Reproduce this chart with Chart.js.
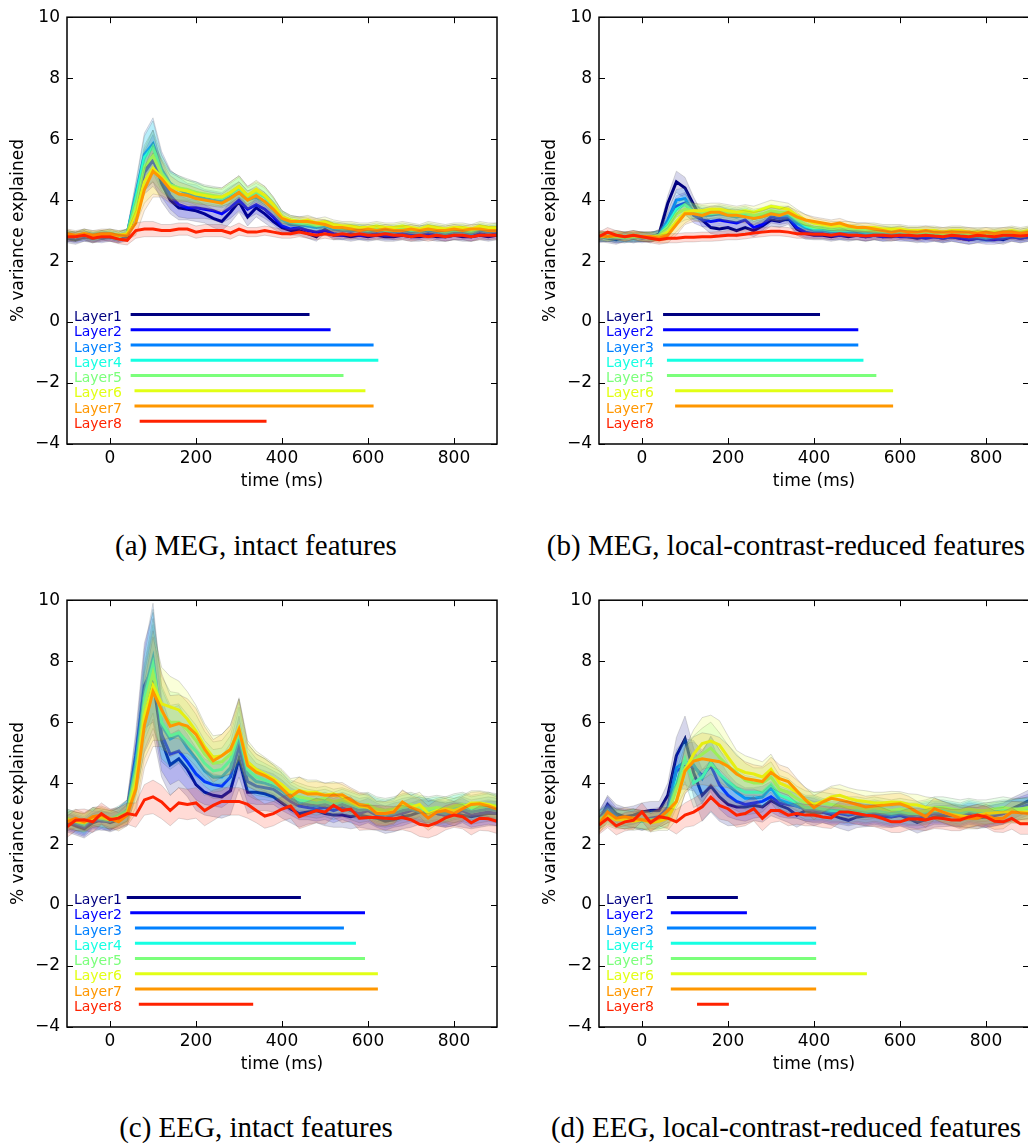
<!DOCTYPE html>
<html>
<head>
<meta charset="utf-8">
<script src="https://cdn.jsdelivr.net/npm/chart.js@4.4.0/dist/chart.umd.min.js"></script>
<style>
    body { margin: 0; background: #fff; width: 1028px; height: 1143px; overflow: hidden; position: relative; }
    canvas { position: absolute; }
    .cap { position: absolute; width: 500px; text-align: center; white-space: nowrap;
           font-family: 'Liberation Serif', 'Times New Roman', serif; font-size: 29px; line-height: 30px; color: #000; }
</style>
</head>
<body>
<canvas id="megIntact" width="514" height="500" style="left:0;top:0"></canvas>
<canvas id="megReduced" width="515" height="500" style="left:514px;top:0"></canvas>
<canvas id="eegIntact" width="514" height="500" style="left:0;top:583px"></canvas>
<canvas id="eegReduced" width="515" height="500" style="left:514px;top:583px"></canvas>
<div class="cap" style="left:6px;top:530px">(a) MEG, intact features</div>
<div class="cap" style="left:536px;top:530px">(b) MEG, local-contrast-reduced features</div>
<div class="cap" style="left:6px;top:1112px">(c) EEG, intact features</div>
<div class="cap" style="left:536px;top:1112px">(d) EEG, local-contrast-reduced features</div>
<script>
// time axis (ms), one sample every 20 ms
var times = [-100, -80, -60, -40, -20, 0, 20, 40, 60, 80, 100, 120, 140, 160, 180, 200, 220, 240, 260, 280,
    300, 320, 340, 360, 380, 400, 420, 440, 460, 480, 500, 520, 540, 560, 580, 600, 620, 640, 660, 680,
    700, 720, 740, 760, 780, 800, 820, 840, 860, 880, 900];
var xTicks = [0, 200, 400, 600, 800];
var yTicks = [-4, -2, 0, 2, 4, 6, 8, 10];

var layerNames = ['Layer1', 'Layer2', 'Layer3', 'Layer4', 'Layer5', 'Layer6', 'Layer7', 'Layer8'];
var layerColors = ['#000080', '#0000ff', '#0080ff', '#15ffe2', '#7bff7b', '#e2ff15', '#ff9700', '#ff2200'];
// height of each layer's significance bar
var sigRowY = [0.25, -0.25, -0.75, -1.25, -1.75, -2.25, -2.75, -3.25];

// (a) MEG, intact features: mean % variance explained per layer
var megIntact = [
    [2.75, 2.7, 2.8, 2.75, 2.85, 2.8, 2.75, 2.8, 3.7, 5.0, 5.45, 4.55, 4.0, 3.75, 3.7, 3.65, 3.55, 3.4, 3.3, 3.6,
        3.95, 3.45, 3.75, 3.55, 3.3, 3.1, 3.0, 3.0, 2.9, 2.8, 3.05, 2.85, 2.85, 2.8, 2.85, 2.8, 2.85, 2.8, 2.8, 2.85,
        2.8, 2.8, 2.85, 2.8, 2.8, 2.85, 2.8, 2.8, 2.85, 2.8, 2.85],
    [2.8, 2.75, 2.8, 2.8, 2.75, 2.8, 2.75, 2.85, 3.8, 4.9, 5.3, 4.7, 4.15, 3.85, 3.75, 3.75, 3.7, 3.65, 3.55, 3.75,
        4.0, 3.7, 3.85, 3.7, 3.45, 3.15, 3.05, 3.1, 3.0, 2.95, 3.0, 2.9, 2.85, 2.9, 2.85, 2.85, 2.9, 2.85, 2.85, 2.9,
        2.85, 2.85, 2.9, 2.85, 2.8, 2.85, 2.85, 2.8, 2.9, 2.85, 2.9],
    [2.8, 2.8, 2.85, 2.75, 2.8, 2.85, 2.8, 2.9, 4.2, 5.5, 5.85, 5.0, 4.55, 4.35, 4.2, 4.15, 4.05, 4.0, 3.95, 4.1,
        4.25, 4.0, 4.1, 3.95, 3.7, 3.35, 3.2, 3.2, 3.15, 3.1, 3.15, 3.05, 3.0, 3.0, 3.0, 2.95, 3.0, 2.95, 2.95, 3.0,
        2.95, 2.95, 3.0, 2.95, 2.9, 2.95, 2.95, 2.9, 3.0, 2.95, 3.0],
    [2.85, 2.8, 2.85, 2.8, 2.85, 2.85, 2.8, 2.9, 4.1, 5.4, 5.75, 4.9, 4.5, 4.4, 4.3, 4.25, 4.15, 4.1, 4.05, 4.2,
        4.4, 4.1, 4.25, 4.1, 3.8, 3.45, 3.3, 3.25, 3.2, 3.15, 3.2, 3.1, 3.05, 3.05, 3.05, 3.0, 3.05, 3.0, 3.0, 3.05,
        3.0, 3.0, 3.05, 3.0, 2.95, 3.0, 3.0, 2.95, 3.05, 3.0, 3.05],
    [2.85, 2.8, 2.9, 2.8, 2.85, 2.9, 2.8, 2.9, 3.9, 5.1, 5.45, 4.85, 4.5, 4.4, 4.35, 4.25, 4.2, 4.15, 4.1, 4.25,
        4.45, 4.15, 4.3, 4.15, 3.85, 3.45, 3.35, 3.3, 3.25, 3.2, 3.2, 3.15, 3.1, 3.1, 3.05, 3.05, 3.1, 3.05, 3.05, 3.1,
        3.05, 3.0, 3.1, 3.05, 3.0, 3.05, 3.05, 3.0, 3.1, 3.05, 3.1],
    [2.85, 2.8, 2.9, 2.85, 2.85, 2.9, 2.85, 2.9, 3.6, 4.6, 5.05, 4.75, 4.45, 4.35, 4.3, 4.2, 4.15, 4.1, 4.1, 4.25,
        4.45, 4.15, 4.35, 4.15, 3.85, 3.45, 3.35, 3.3, 3.35, 3.25, 3.3, 3.2, 3.15, 3.15, 3.1, 3.1, 3.15, 3.1, 3.1, 3.15,
        3.1, 3.05, 3.15, 3.1, 3.05, 3.1, 3.1, 3.05, 3.15, 3.1, 3.1],
    [2.9, 2.85, 2.9, 2.85, 2.9, 2.9, 2.85, 2.85, 3.25, 4.35, 4.95, 4.7, 4.35, 4.2, 4.15, 4.05, 4.0, 3.95, 3.9, 4.05,
        4.25, 4.0, 4.15, 3.95, 3.7, 3.4, 3.3, 3.3, 3.3, 3.25, 3.2, 3.1, 3.1, 3.05, 3.0, 3.05, 3.0, 3.05, 3.0, 3.0,
        3.05, 3.0, 3.05, 3.0, 3.0, 3.05, 3.0, 3.05, 3.05, 3.0, 3.0],
    [2.8, 2.8, 2.85, 2.75, 2.8, 2.8, 2.72, 2.68, 3.0, 3.05, 3.05, 3.0, 3.0, 3.05, 3.05, 2.95, 3.0, 3.0, 3.0, 2.92,
        3.05, 2.95, 2.95, 3.0, 2.95, 2.9, 2.9, 2.95, 2.9, 2.85, 2.9, 2.85, 2.9, 2.85, 2.9, 2.85, 2.85, 2.9, 2.85, 2.85,
        2.8, 2.85, 2.8, 2.85, 2.8, 2.85, 2.85, 2.8, 2.85, 2.85, 2.85]
];
// half-width of the shaded error band (layers 1-7, and layer 8)
var megIntactSpread = [0.15, 0.15, 0.15, 0.15, 0.15, 0.15, 0.15, 0.15, 0.4, 0.7, 0.85, 0.6, 0.45, 0.4, 0.35, 0.35, 0.3, 0.3, 0.3, 0.35,
    0.35, 0.3, 0.3, 0.3, 0.25, 0.2, 0.15, 0.15, 0.15, 0.15, 0.15, 0.15, 0.15, 0.15, 0.15, 0.15, 0.15, 0.15, 0.15, 0.15,
    0.15, 0.15, 0.15, 0.15, 0.15, 0.15, 0.15, 0.15, 0.15, 0.15, 0.15];
var megIntactSpread8 = [0.15, 0.15, 0.15, 0.15, 0.15, 0.15, 0.15, 0.15, 0.25, 0.25, 0.25, 0.2, 0.2, 0.2, 0.2, 0.2, 0.2, 0.2, 0.2, 0.2,
    0.2, 0.15, 0.15, 0.15, 0.15, 0.15, 0.15, 0.15, 0.15, 0.15, 0.15, 0.15, 0.15, 0.15, 0.15, 0.15, 0.15, 0.15, 0.15, 0.15,
    0.15, 0.15, 0.15, 0.15, 0.15, 0.15, 0.15, 0.15, 0.15, 0.15, 0.15];
// significant time windows [start, end] in ms
var megIntactSig = [[48, 464], [48, 513], [48, 613], [48, 624], [48, 543], [57, 594], [57, 613], [69, 364]];

// (b) MEG, local-contrast-reduced features
var megReduced = [
    [2.8, 2.75, 2.7, 2.8, 2.75, 2.8, 2.75, 2.9, 3.9, 4.6, 4.4, 3.85, 3.35, 3.1, 3.05, 3.1, 3.0, 3.1, 3.0, 3.15,
        3.35, 3.3, 3.4, 3.05, 2.9, 2.85, 2.85, 2.8, 2.85, 2.8, 2.85, 2.8, 2.85, 2.8, 2.8, 2.85, 2.8, 2.75, 2.8, 2.8,
        2.75, 2.8, 2.75, 2.7, 2.75, 2.8, 2.75, 2.7, 2.8, 2.75, 2.8],
    [2.75, 2.8, 2.75, 2.75, 2.8, 2.75, 2.8, 2.85, 3.3, 3.8, 3.9, 3.5, 3.35, 3.3, 3.35, 3.3, 3.25, 3.35, 3.1, 3.2,
        3.45, 3.4, 3.45, 3.1, 2.95, 2.9, 2.9, 2.85, 2.85, 2.85, 2.85, 2.8, 2.85, 2.8, 2.85, 2.8, 2.8, 2.8, 2.75, 2.8,
        2.75, 2.8, 2.75, 2.7, 2.75, 2.7, 2.7, 2.75, 2.8, 2.75, 2.8],
    [2.8, 2.8, 2.75, 2.8, 2.75, 2.8, 2.8, 2.85, 3.35, 4.0, 4.05, 3.6, 3.5, 3.5, 3.55, 3.5, 3.45, 3.5, 3.4, 3.45,
        3.55, 3.5, 3.5, 3.25, 3.1, 3.0, 3.0, 2.95, 2.95, 2.95, 2.95, 2.9, 2.9, 2.9, 2.9, 2.9, 2.9, 2.85, 2.85, 2.85,
        2.8, 2.85, 2.85, 2.8, 2.8, 2.75, 2.8, 2.8, 2.85, 2.8, 2.85],
    [2.8, 2.8, 2.8, 2.75, 2.8, 2.8, 2.8, 2.85, 3.2, 3.7, 3.85, 3.6, 3.55, 3.55, 3.6, 3.55, 3.5, 3.55, 3.45, 3.5,
        3.6, 3.55, 3.55, 3.35, 3.15, 3.05, 3.05, 3.0, 3.0, 3.0, 3.0, 2.95, 2.95, 2.95, 2.95, 2.95, 2.9, 2.9, 2.9, 2.9,
        2.85, 2.9, 2.9, 2.85, 2.85, 2.8, 2.85, 2.85, 2.9, 2.85, 2.9],
    [2.8, 2.8, 2.8, 2.8, 2.8, 2.8, 2.8, 2.85, 3.1, 3.55, 3.7, 3.65, 3.6, 3.6, 3.65, 3.6, 3.55, 3.6, 3.5, 3.55,
        3.65, 3.6, 3.6, 3.4, 3.2, 3.1, 3.1, 3.05, 3.05, 3.05, 3.05, 3.0, 3.0, 3.0, 3.0, 3.0, 2.95, 2.95, 2.95, 2.95,
        2.9, 2.95, 2.95, 2.9, 2.9, 2.85, 2.9, 2.9, 2.95, 2.9, 2.95],
    [2.85, 2.8, 2.85, 2.8, 2.85, 2.8, 2.8, 2.8, 2.95, 3.3, 3.6, 3.65, 3.65, 3.7, 3.7, 3.65, 3.6, 3.65, 3.6, 3.7,
        3.8, 3.75, 3.7, 3.5, 3.35, 3.25, 3.2, 3.15, 3.15, 3.15, 3.1, 3.1, 3.1, 3.05, 3.05, 3.05, 3.0, 3.0, 3.0, 3.0,
        2.95, 3.0, 3.0, 2.95, 2.95, 2.95, 2.95, 2.95, 3.0, 2.95, 3.0],
    [2.85, 2.8, 2.85, 2.8, 2.85, 2.8, 2.8, 2.75, 2.85, 3.2, 3.55, 3.55, 3.5, 3.6, 3.6, 3.5, 3.5, 3.45, 3.4, 3.45,
        3.55, 3.5, 3.6, 3.45, 3.35, 3.3, 3.25, 3.2, 3.25, 3.15, 3.1, 3.1, 3.05, 3.0, 2.95, 3.0, 2.95, 2.95, 3.0, 2.95,
        2.95, 2.95, 2.95, 2.95, 2.9, 2.95, 2.9, 2.95, 2.95, 2.9, 2.95],
    [2.8, 2.95, 2.85, 2.8, 2.85, 2.8, 2.75, 2.7, 2.75, 2.75, 2.78, 2.78, 2.8, 2.8, 2.82, 2.85, 2.85, 2.88, 2.92, 2.95,
        2.98, 2.98, 2.95, 2.9, 2.9, 2.88, 2.88, 2.85, 2.9, 2.85, 2.85, 2.82, 2.85, 2.85, 2.82, 2.85, 2.85, 2.82, 2.85, 2.82,
        2.8, 2.85, 2.82, 2.8, 2.85, 2.82, 2.8, 2.85, 2.85, 2.82, 2.85]
];
var megReducedSpread = [0.15, 0.15, 0.15, 0.15, 0.15, 0.15, 0.15, 0.15, 0.25, 0.35, 0.35, 0.25, 0.22, 0.2, 0.2, 0.2, 0.2, 0.2, 0.2, 0.2,
    0.2, 0.2, 0.2, 0.2, 0.18, 0.15, 0.15, 0.15, 0.15, 0.15, 0.15, 0.15, 0.15, 0.15, 0.15, 0.15, 0.15, 0.15, 0.15, 0.15,
    0.15, 0.15, 0.15, 0.15, 0.15, 0.15, 0.15, 0.15, 0.15, 0.15, 0.15];
var megReducedSpread8 = [0.15, 0.15, 0.15, 0.15, 0.15, 0.15, 0.15, 0.15, 0.15, 0.15, 0.15, 0.15, 0.15, 0.15, 0.15, 0.15, 0.15, 0.15, 0.15, 0.15,
    0.15, 0.15, 0.15, 0.15, 0.15, 0.15, 0.15, 0.15, 0.15, 0.15, 0.15, 0.15, 0.15, 0.15, 0.15, 0.15, 0.15, 0.15, 0.15, 0.15,
    0.15, 0.15, 0.15, 0.15, 0.15, 0.15, 0.15, 0.15, 0.15, 0.15, 0.15];
var megReducedSig = [[49, 414], [49, 503], [49, 503], [58, 515], [58, 545], [77, 584], [77, 584], null];

// (c) EEG, intact features
var eegIntact = [
    [2.7, 2.6, 2.5, 2.7, 2.8, 2.7, 2.8, 2.95, 4.4, 6.4, 7.4, 5.4, 4.6, 4.8, 4.45, 3.95, 3.7, 3.6, 3.55, 3.75,
        4.8, 3.7, 3.7, 3.65, 3.55, 3.35, 3.15, 3.0, 3.05, 3.1, 3.0, 2.95, 2.95, 2.9, 2.95, 2.9, 2.85, 2.75, 2.8, 2.9,
        2.95, 3.05, 3.1, 3.0, 2.95, 3.0, 2.95, 2.9, 2.95, 3.0, 3.0],
    [2.75, 2.65, 2.55, 2.8, 2.75, 2.75, 2.9, 3.1, 4.9, 7.2, 7.8, 5.6, 4.95, 5.05, 4.7, 4.3, 4.05, 3.95, 3.9, 4.2,
        5.2, 4.05, 3.9, 3.85, 3.8, 3.6, 3.4, 3.25, 3.2, 3.15, 3.2, 3.1, 3.2, 3.1, 3.0, 3.1, 2.95, 2.85, 2.95, 3.0,
        3.1, 3.15, 3.05, 3.0, 2.95, 3.0, 3.1, 2.95, 3.0, 3.05, 3.0],
    [2.8, 2.7, 2.6, 2.85, 2.8, 2.75, 2.9, 3.1, 4.7, 7.0, 8.1, 5.9, 5.45, 5.6, 5.15, 4.8, 4.4, 4.2, 4.2, 4.5,
        5.5, 4.3, 4.05, 4.0, 3.9, 3.75, 3.5, 3.35, 3.3, 3.25, 3.3, 3.2, 3.3, 3.2, 3.1, 3.15, 3.0, 2.95, 3.0, 3.1,
        3.15, 3.05, 3.0, 3.05, 3.0, 3.1, 3.15, 3.05, 3.1, 3.15, 3.1],
    [2.85, 2.75, 2.65, 2.9, 2.85, 2.8, 2.95, 3.1, 4.5, 6.8, 7.9, 6.0, 5.55, 5.65, 5.35, 5.05, 4.65, 4.4, 4.45, 4.75,
        5.65, 4.45, 4.2, 4.1, 4.0, 3.85, 3.6, 3.45, 3.4, 3.35, 3.4, 3.3, 3.4, 3.3, 3.2, 3.25, 3.1, 3.05, 3.1, 3.2,
        3.25, 3.15, 3.1, 3.15, 3.1, 3.2, 3.25, 3.15, 3.2, 3.25, 3.2],
    [2.85, 2.75, 2.7, 2.9, 2.85, 2.8, 2.9, 3.05, 4.3, 6.5, 7.6, 6.3, 6.0, 6.0, 5.75, 5.4, 4.95, 4.65, 4.7, 4.95,
        5.75, 4.6, 4.35, 4.25, 4.1, 3.9, 3.65, 3.55, 3.5, 3.45, 3.5, 3.4, 3.45, 3.35, 3.25, 3.3, 3.15, 3.1, 3.15, 3.25,
        3.3, 3.2, 3.15, 3.2, 3.15, 3.25, 3.3, 3.2, 3.25, 3.3, 3.25],
    [2.8, 2.75, 2.7, 2.85, 2.9, 2.8, 2.85, 3.0, 4.0, 6.2, 7.2, 6.6, 6.5, 6.4, 6.1, 5.7, 5.2, 4.85, 4.9, 5.1,
        5.8, 4.7, 4.45, 4.3, 4.15, 3.95, 3.7, 3.75, 3.7, 3.7, 3.6, 3.65, 3.55, 3.4, 3.25, 3.2, 3.05, 3.0, 3.1, 3.35,
        3.2, 3.3, 3.0, 3.1, 3.15, 3.1, 3.2, 3.35, 3.35, 3.3, 3.2],
    [2.73, 2.84, 2.73, 2.9, 2.95, 2.84, 2.73, 2.95, 3.8, 5.9, 7.0, 6.4, 5.87, 5.95, 5.87, 5.6, 5.11, 4.73, 4.9, 5.1,
        5.76, 4.58, 4.36, 4.25, 4.09, 3.82, 3.55, 3.75, 3.64, 3.65, 3.6, 3.6, 3.62, 3.45, 3.3, 3.25, 3.0, 3.0, 3.05, 3.38,
        3.2, 3.1, 2.85, 3.05, 3.1, 3.0, 3.16, 3.3, 3.32, 3.25, 3.15],
    [2.57, 2.78, 2.8, 2.73, 3.0, 2.8, 2.85, 3.0, 2.95, 3.45, 3.55, 3.38, 3.1, 3.35, 3.3, 3.35, 3.1, 3.27, 3.4, 3.4,
        3.4, 3.3, 3.1, 2.92, 3.0, 3.15, 3.25, 2.9, 3.0, 3.1, 3.05, 3.27, 3.1, 3.15, 2.85, 2.87, 2.87, 2.85, 2.83, 2.87,
        2.8, 2.65, 2.6, 2.7, 2.86, 2.95, 2.9, 2.7, 2.85, 2.83, 2.75]
];
var eegIntactSpread = [0.3, 0.3, 0.3, 0.3, 0.3, 0.3, 0.3, 0.35, 0.8, 1.4, 1.8, 1.2, 1.0, 0.95, 0.9, 0.85, 0.75, 0.7, 0.7, 0.8,
    1.0, 0.7, 0.6, 0.55, 0.5, 0.5, 0.45, 0.45, 0.4, 0.4, 0.4, 0.4, 0.4, 0.4, 0.4, 0.4, 0.4, 0.4, 0.4, 0.4,
    0.4, 0.4, 0.4, 0.4, 0.4, 0.4, 0.4, 0.4, 0.4, 0.4, 0.4];
var eegIntactSpread8 = [0.35, 0.35, 0.35, 0.35, 0.35, 0.35, 0.35, 0.35, 0.4, 0.5, 0.55, 0.55, 0.5, 0.5, 0.5, 0.5, 0.5, 0.5, 0.45, 0.45,
    0.45, 0.45, 0.4, 0.4, 0.4, 0.4, 0.4, 0.4, 0.4, 0.4, 0.4, 0.4, 0.4, 0.4, 0.4, 0.4, 0.4, 0.4, 0.4, 0.4,
    0.4, 0.4, 0.4, 0.4, 0.4, 0.4, 0.4, 0.4, 0.4, 0.4, 0.4];
var eegIntactSig = [[39, 444], [47, 593], [58, 544], [58, 572], [58, 593], [58, 623], [58, 623], [67, 333]];

// (d) EEG, local-contrast-reduced features
var eegReduced = [
    [2.75, 3.3, 3.0, 2.9, 2.95, 3.05, 3.1, 3.1, 3.6, 4.9, 5.45, 4.35, 3.6, 3.9, 3.55, 3.3, 3.22, 3.22, 3.27, 3.22,
        3.43, 3.27, 3.16, 2.95, 3.1, 3.0, 3.05, 2.97, 2.86, 2.78, 2.89, 2.92, 2.94, 2.9, 2.89, 2.94, 2.84, 2.71, 2.8, 2.9,
        2.92, 2.94, 2.9, 2.89, 2.86, 2.89, 2.94, 3.0, 3.16, 3.29, 3.43],
    [2.8, 3.25, 2.9, 2.85, 2.8, 2.75, 2.85, 2.9, 3.2, 4.4, 4.55, 4.55, 4.24, 4.57, 3.95, 3.6, 3.4, 3.3, 3.35, 3.4,
        3.55, 3.35, 3.3, 3.25, 3.15, 3.1, 3.05, 3.0, 3.0, 2.95, 3.0, 2.95, 3.0, 2.95, 2.9, 2.95, 2.9, 2.85, 2.9, 3.0,
        3.0, 2.95, 2.9, 3.0, 2.95, 2.9, 2.95, 3.0, 3.1, 3.2, 3.3],
    [2.75, 3.1, 2.85, 2.8, 2.85, 2.8, 2.8, 2.85, 3.1, 4.5, 4.7, 4.6, 4.15, 4.7, 4.3, 3.95, 3.7, 3.5, 3.5, 3.55,
        3.85, 3.45, 3.35, 3.25, 3.15, 3.15, 3.1, 3.05, 3.05, 3.0, 3.05, 3.0, 3.05, 3.0, 2.95, 3.0, 2.95, 2.95, 3.0, 3.05,
        3.05, 3.0, 2.95, 3.05, 3.0, 2.95, 3.0, 3.05, 3.1, 3.15, 3.2],
    [2.8, 3.0, 2.85, 2.8, 2.85, 2.75, 2.8, 2.8, 3.0, 4.0, 4.8, 4.0, 4.2, 4.65, 4.3, 4.05, 3.85, 3.7, 3.7, 3.7,
        3.95, 3.6, 3.5, 3.35, 3.2, 3.2, 3.15, 3.1, 3.1, 3.05, 3.1, 3.05, 3.1, 3.05, 3.0, 3.05, 3.0, 3.0, 3.05, 3.1,
        3.1, 3.05, 3.0, 3.1, 3.05, 3.0, 3.05, 3.1, 3.1, 3.15, 3.15],
    [2.8, 2.95, 2.85, 2.8, 2.85, 2.8, 2.75, 2.8, 2.95, 3.8, 4.5, 4.75, 4.95, 5.15, 4.85, 4.55, 4.35, 4.1, 4.0, 4.0,
        4.2, 3.8, 3.7, 3.5, 3.35, 3.3, 3.35, 3.3, 3.25, 3.2, 3.2, 3.15, 3.2, 3.15, 3.1, 3.15, 3.1, 3.05, 3.1, 3.2,
        3.2, 3.15, 3.1, 3.15, 3.1, 3.1, 3.15, 3.2, 3.15, 3.15, 3.2],
    [2.7, 2.9, 2.8, 2.8, 2.75, 2.8, 2.7, 2.75, 2.85, 3.4, 4.4, 4.95, 5.3, 5.38, 5.25, 4.85, 4.47, 4.35, 4.3, 4.2,
        4.45, 4.0, 3.88, 3.7, 3.45, 3.3, 3.4, 3.55, 3.6, 3.5, 3.43, 3.4, 3.35, 3.35, 3.38, 3.37, 3.3, 3.28, 3.2, 3.16,
        3.05, 2.97, 2.93, 2.89, 2.95, 3.0, 3.03, 3.05, 3.05, 3.05, 3.06],
    [2.65, 3.05, 2.85, 2.9, 2.85, 2.8, 2.75, 2.85, 3.1, 3.4, 4.4, 4.72, 4.8, 4.75, 4.7, 4.55, 4.3, 4.15, 4.1, 4.05,
        4.35, 4.15, 4.05, 3.75, 3.45, 3.2, 3.38, 3.5, 3.45, 3.38, 3.3, 3.22, 3.25, 3.27, 3.3, 3.32, 3.22, 3.05, 2.9, 3.16,
        3.05, 2.95, 2.85, 2.85, 2.85, 2.95, 2.83, 2.85, 3.05, 3.03, 3.0],
    [2.62, 2.84, 2.6, 2.73, 2.78, 3.05, 2.7, 2.9, 2.85, 2.73, 2.95, 3.05, 3.22, 3.54, 3.27, 3.16, 2.95, 3.0, 3.16, 2.84,
        3.1, 3.1, 2.95, 3.0, 2.95, 2.95, 2.89, 2.86, 3.05, 3.05, 3.0, 2.95, 2.92, 2.84, 2.73, 2.73, 2.82, 2.82, 2.79, 2.86,
        2.84, 2.79, 2.79, 2.89, 2.95, 2.89, 2.75, 2.73, 2.84, 2.67, 2.67]
];
var eegReducedSpread = [0.3, 0.3, 0.3, 0.3, 0.3, 0.3, 0.3, 0.3, 0.4, 0.6, 0.75, 0.8, 0.85, 0.85, 0.8, 0.7, 0.6, 0.55, 0.5, 0.5,
    0.5, 0.45, 0.45, 0.4, 0.4, 0.4, 0.35, 0.35, 0.35, 0.35, 0.35, 0.35, 0.35, 0.35, 0.35, 0.35, 0.35, 0.35, 0.35, 0.35,
    0.35, 0.35, 0.35, 0.35, 0.35, 0.35, 0.35, 0.35, 0.35, 0.35, 0.35];
var eegReducedSpread8 = [0.3, 0.3, 0.3, 0.3, 0.3, 0.3, 0.3, 0.3, 0.35, 0.4, 0.4, 0.45, 0.45, 0.45, 0.45, 0.4, 0.4, 0.4, 0.4, 0.4,
    0.4, 0.35, 0.35, 0.35, 0.35, 0.35, 0.35, 0.35, 0.35, 0.35, 0.35, 0.35, 0.35, 0.35, 0.35, 0.35, 0.35, 0.35, 0.35, 0.35,
    0.35, 0.35, 0.35, 0.35, 0.35, 0.35, 0.35, 0.35, 0.35, 0.35, 0.35];
var eegReducedSig = [[58, 223], [67, 244], [58, 405], [67, 405], [67, 405], [67, 523], [67, 405], [128, 202]];

Chart.defaults.font.family = "'DejaVu Sans', sans-serif";
Chart.defaults.color = '#000';

function rgba(hex, a) {
    var n = parseInt(hex.slice(1), 16);
    return 'rgba(' + (n >> 16) + ',' + ((n >> 8) & 255) + ',' + (n & 255) + ',' + a + ')';
}

// spines, inward ticks on all four sides, and the layer names next to the bars
var axesFrame = {
    id: 'axesFrame',
    afterDraw: function (chart) {
        var ctx = chart.ctx;
        var a = chart.chartArea;
        var xs = chart.scales.x;
        var ys = chart.scales.y;
        ctx.save();

        ctx.font = "14px 'DejaVu Sans'";
        ctx.textAlign = 'left';
        ctx.textBaseline = 'middle';
        layerNames.forEach(function (name, i) {
            ctx.fillStyle = layerColors[i];
            ctx.fillText(name, xs.getPixelForValue(-84), ys.getPixelForValue(sigRowY[i]) + 3);
        });

        ctx.strokeStyle = '#000';
        ctx.lineWidth = 1;
        ctx.beginPath();
        xTicks.forEach(function (v) {
            var px = Math.round(xs.getPixelForValue(v)) + 0.5;
            ctx.moveTo(px, a.bottom);
            ctx.lineTo(px, a.bottom - 6);
            ctx.moveTo(px, a.top);
            ctx.lineTo(px, a.top + 6);
        });
        yTicks.forEach(function (v) {
            var py = Math.round(ys.getPixelForValue(v)) + 0.5;
            ctx.moveTo(a.left, py);
            ctx.lineTo(a.left + 6, py);
            ctx.moveTo(a.right, py);
            ctx.lineTo(a.right - 6, py);
        });
        ctx.stroke();
        ctx.lineWidth = 1.5;
        ctx.strokeRect(a.left, a.top, a.right - a.left, a.bottom - a.top);
        ctx.restore();
    }
};

function buildPanel(canvasId, means, spread, spread8, sig, yAxisWidth, padRight, yTitlePad) {
    var datasets = [];
    means.forEach(function (series, i) {
        var sp = i === 7 ? spread8 : spread;
        var lo = [], hi = [], mid = [];
        times.forEach(function (t, k) {
            lo.push({x: t, y: series[k] - sp[k]});
            hi.push({x: t, y: series[k] + sp[k]});
            mid.push({x: t, y: series[k]});
        });
        datasets.push({data: lo, borderColor: 'rgba(90,90,90,0.22)', borderWidth: 1, fill: false});
        datasets.push({data: hi, borderColor: 'rgba(90,90,90,0.22)', borderWidth: 1,
            backgroundColor: rgba(layerColors[i], 0.16), fill: '-1'});
        datasets.push({data: mid, borderColor: layerColors[i], borderWidth: 3, fill: false});
    });
    sig.forEach(function (win, i) {
        if (!win) {
            return;
        }
        datasets.push({
            data: [{x: win[0], y: sigRowY[i]}, {x: win[1], y: sigRowY[i]}],
            borderColor: layerColors[i], borderWidth: 3, fill: false
        });
    });
    // later datasets go on top
    datasets.forEach(function (d, k) {
        d.order = datasets.length - k;
    });

    return new Chart(document.getElementById(canvasId), {
        type: 'line',
        data: {datasets: datasets},
        options: {
            responsive: false,
            animation: false,
            events: [],
            layout: {padding: {top: 13, right: padRight, left: 0, bottom: 0}},
            elements: {
                line: {tension: 0},
                point: {radius: 0}
            },
            plugins: {
                legend: {display: false},
                tooltip: {enabled: false}
            },
            scales: {
                x: {
                    type: 'linear',
                    min: -100,
                    max: 900,
                    afterBuildTicks: function (scale) {
                        scale.ticks = xTicks.map(function (v) { return {value: v}; });
                    },
                    afterFit: function (scale) { scale.height = 56; },
                    grid: {display: false, drawTicks: false},
                    border: {display: false},
                    ticks: {padding: 4, font: {size: 17}, maxRotation: 0},
                    title: {display: true, text: 'time (ms)', font: {size: 17}, padding: {top: 0, bottom: 8}}
                },
                y: {
                    type: 'linear',
                    min: -4,
                    max: 10,
                    afterBuildTicks: function (scale) {
                        scale.ticks = yTicks.map(function (v) { return {value: v}; });
                    },
                    afterFit: function (scale) { scale.width = yAxisWidth; },
                    grid: {display: false, drawTicks: false},
                    border: {display: false},
                    ticks: {
                        padding: 7,
                        font: {size: 17},
                        callback: function (v) { return v < 0 ? '\u2212' + Math.abs(v) : String(v); }
                    },
                    title: {display: true, text: '% variance explained', font: {size: 17}, padding: {top: yTitlePad, bottom: 0}}
                }
            }
        },
        plugins: [axesFrame]
    });
}

buildPanel('megIntact', megIntact, megIntactSpread, megIntactSpread8, megIntactSig, 67, 17, 8);
buildPanel('megReduced', megReduced, megReducedSpread, megReducedSpread8, megReducedSig, 85, 0, 26);
buildPanel('eegIntact', eegIntact, eegIntactSpread, eegIntactSpread8, eegIntactSig, 67, 17, 8);
buildPanel('eegReduced', eegReduced, eegReducedSpread, eegReducedSpread8, eegReducedSig, 85, 0, 26);
</script>
</body>
</html>
